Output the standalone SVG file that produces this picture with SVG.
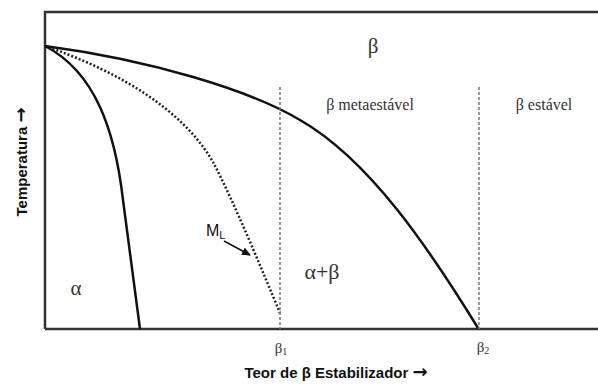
<svg xmlns="http://www.w3.org/2000/svg" width="598" height="385" viewBox="0 0 598 385">
<style>
.frame{fill:none;stroke:#333;stroke-width:2.5}
.curve{fill:none;stroke:#111;stroke-width:2.5}
.dot{fill:none;stroke:#222;stroke-width:2.5;stroke-dasharray:2 2}
.vdash{fill:none;stroke:#777;stroke-width:1.5;stroke-dasharray:3 2}
.serif{font-family:"Liberation Serif","DejaVu Serif",serif;fill:#333}
.sans{font-family:"Liberation Sans",Arial,sans-serif;font-weight:bold;fill:#111}
.arr{font-family:"DejaVu Sans",sans-serif;font-weight:bold;font-size:18px}
</style>
<defs>
<marker id="ah" markerWidth="9" markerHeight="8" refX="8" refY="4" orient="auto" markerUnits="userSpaceOnUse">
<path d="M0,0 L9,4 L0,8 z" fill="#111"/>
</marker>
</defs>
<g id="axes">
<path class="frame" d="M45,329 L45,12 L598,12 M45,329 L598,329"/>
</g>
<g id="connectors">
<path id="alpha-boundary" class="curve" d="M45,46 C95,72 115,130 123,200 L140,329"/>
<path id="ms-curve" class="dot" d="M45,46 C115,70 182,108 213,162 C234,202 262,270 280,313"/>
<path id="beta-transus" class="curve" d="M45,46 C150,60 250,90 300,120 C370,160 430,250 478,328"/>
<path id="beta1-line" class="vdash" d="M280,87 L280,329"/>
<path id="beta2-line" class="vdash" d="M479,87 L479,329"/>
<path id="ml-arrow" fill="none" stroke="#111" stroke-width="1.5" d="M224,241 L250,255" marker-end="url(#ah)"/>
</g>
<g id="labels">
<text class="serif" x="373" y="53" font-size="21" text-anchor="middle">β</text>
<text class="serif" x="370" y="110" font-size="16" text-anchor="middle">β metaestável</text>
<text class="serif" x="544" y="110" font-size="16" text-anchor="middle">β estável</text>
<text class="serif" x="76" y="295" font-size="21" text-anchor="middle">α</text>
<text class="serif" x="322" y="279" font-size="22" text-anchor="middle">α+β</text>
<text x="206" y="236" font-size="16" font-family="Liberation Sans, Arial, sans-serif" fill="#111">M<tspan font-size="11" dy="3">L</tspan></text>
<text class="serif" x="281" y="353" font-size="15" text-anchor="middle">β<tspan font-size="10" dy="2">1</tspan></text>
<text class="serif" x="483" y="352" font-size="15" text-anchor="middle">β<tspan font-size="10" dy="2">2</tspan></text>
<text class="sans" x="336" y="378" font-size="15" text-anchor="middle">Teor de β Estabilizador <tspan class="arr">→</tspan></text>
<text class="sans" x="0" y="0" font-size="15" text-anchor="middle" transform="translate(27,162) rotate(-90)">Temperatura <tspan class="arr">→</tspan></text>
</g>
</svg>
